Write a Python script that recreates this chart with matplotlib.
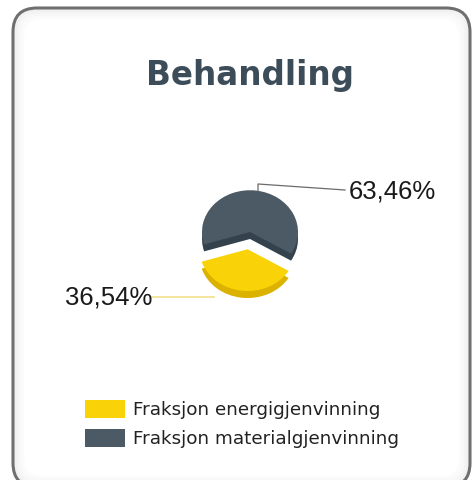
import matplotlib
matplotlib.use("Agg")
import matplotlib.pyplot as plt
from matplotlib.patches import FancyBboxPatch, Rectangle
from matplotlib.transforms import Affine2D

# data
categories = ["Fraksjon energigjenvinning", "Fraksjon materialgjenvinning"]
shares = [36.54, 63.46]
colors = ["#f9d308", "#4c5a65"]
side_colors = ["#dcb200", "#33424d"]
title = "Behandling"

W, H = 476, 481
fig = plt.figure(figsize=(W / 100, H / 100), dpi=100)
ax = fig.add_axes([0, 0, 1, 1])

# card with rounded corners, dark rim and soft inner shade
x0, y0, bw, bh = 13, -7, 457, 479
ax.add_patch(FancyBboxPatch((x0, y0), bw, bh, boxstyle="round,pad=0,rounding_size=24",
                            fc="white", ec="#6f6f6f", lw=2.2))
for k, a in enumerate([0.10, 0.07, 0.05, 0.03, 0.02]):
    d = 2 + 2 * k
    ax.add_patch(FancyBboxPatch((x0 + d, y0 + d), bw - 2 * d, bh - 2 * d,
                                boxstyle=f"round,pad=0,rounding_size={24 - d * 0.5}",
                                fc="none", ec="#8a8a8a", lw=2, alpha=a))

# pie drawn at the origin, then squashed and moved to look tilted
cx, cy, r, tilt, depth = 250, H - 233, 48, 0.87, 7
start = 263 - shares[0] / 100 * 360 / 2
explode = [20, 0]
for dy, cols in [(-depth, side_colors), (0, colors)]:
    wedges, _ = ax.pie(shares, colors=cols, startangle=start, radius=r, center=(0, 0),
                       explode=explode, frame=True, wedgeprops=dict(lw=0))
    tr = Affine2D().scale(1, tilt).translate(cx, cy + dy) + ax.transData
    for w in wedges:
        w.set_transform(tr)

# leader lines and value labels
labels = [f"{v:.2f}".replace(".", ",") + "%" for v in shares]
ax.plot([150, 214], [H - 298, H - 298], color="#f1e08c", lw=1.2)
ax.plot([258, 258, 345], [H - 192, H - 185, H - 191], color="#6b6b6b", lw=0.9)
ax.text(65, H - 297, labels[0], fontsize=18.5, family="Liberation Sans", va="center", ha="left", color="#1a1a1a")
ax.text(349, H - 192, labels[1], fontsize=18.5, family="Liberation Sans", va="center", ha="left", color="#1a1a1a")

ax.text(250, H - 75, title, fontsize=23.5, fontweight="bold", ha="center", va="center", color="#3c4d59")

# legend
for i, (lab, c) in enumerate(zip(categories, colors)):
    y = H - (410 + 29 * i)
    ax.add_patch(Rectangle((85, y - 9), 40, 18, fc=c, ec="none"))
    ax.text(133, y, lab, fontsize=13.2, va="center", ha="left", color="#222222")

ax.set_xlim(0, W)
ax.set_ylim(0, H)
ax.set_aspect("auto")
ax.axis("off")
fig.savefig("out.png", dpi=100)
